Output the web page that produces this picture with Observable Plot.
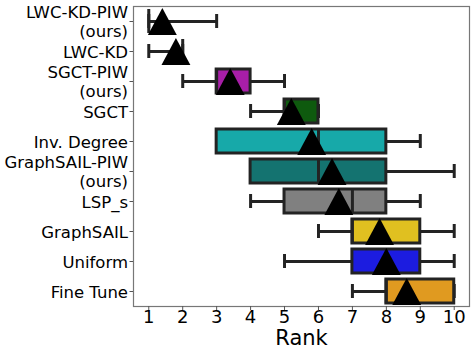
<!DOCTYPE html>
<html>
<head>
<meta charset="utf-8">
<script src="https://cdn.jsdelivr.net/npm/d3@7"></script>
<script src="https://cdn.jsdelivr.net/npm/@observablehq/plot@0.6"></script>
<style>
  html, body { margin: 0; padding: 0; background: #fff; }
  svg { display: block; }
</style>
</head>
<body>
<div id="chart"></div>
<script>
const categories = ["LWC-KD-PIW\n(ours)", "LWC-KD", "SGCT-PIW\n(ours)", "SGCT", "Inv. Degree",
  "GraphSAIL-PIW\n(ours)", "LSP_s", "GraphSAIL", "Uniform", "Fine Tune"];
const whiskerLow = [1, 1, 2, 4, 3, 4, 4, 6, 5, 7];
const q1 = [1, 2, 3, 5, 3, 4, 5, 7, 7, 8];
const median = [1, 2, 3, 5, 6, 6, 7, 7, 8, 8];
const q3 = [1, 2, 4, 6, 8, 8, 8, 9, 9, 10];
const whiskerHigh = [3, 2, 5, 6, 9, 10, 9, 10, 10, 10];
const mean = [1.4, 1.8, 3.4, 5.2, 5.8, 6.4, 6.6, 7.8, 8.0, 8.6];
const colors = ["#ffffff", "#ffffff", "#a81ea8", "#0e5a0e", "#17a9a9", "#147370", "#808080", "#e0c020", "#1c1ce0", "#e09a20"];
const xTicks = [1, 2, 3, 4, 5, 6, 7, 8, 9, 10];
const xLabel = "Rank";

const rows = categories.map((c, i) => ({
  cat: c, lo: whiskerLow[i], q1: q1[i], med: median[i], q3: q3[i], hi: whiskerHigh[i], mean: mean[i], color: colors[i]
}));

const edge = "#232323";
const tri = {
  draw(context, size) {
    const r = Math.sqrt(size / Math.PI);
    context.moveTo(0, -r);
    context.lineTo(r * 1.07, r);
    context.lineTo(-r * 1.07, r);
    context.closePath();
  }
};

const chart = Plot.plot({
  width: 475,
  height: 356,
  marginLeft: 133,
  marginRight: 6,
  marginTop: 6,
  marginBottom: 50,
  style: { fontFamily: "DejaVu Sans", background: "#fff", color: "#000" },
  x: { domain: [0.55, 10.45] },
  y: { domain: categories, padding: 0 },
  marks: [
    Plot.ruleY(rows, { y: "cat", x1: "lo", x2: "q1", stroke: edge, strokeWidth: 3 }),
    Plot.ruleY(rows, { y: "cat", x1: "q3", x2: "hi", stroke: edge, strokeWidth: 3 }),
    Plot.tickX(rows, { x: "lo", y: "cat", stroke: edge, strokeWidth: 3, insetTop: 8, insetBottom: 8 }),
    Plot.tickX(rows, { x: "hi", y: "cat", stroke: edge, strokeWidth: 3, insetTop: 8, insetBottom: 8 }),
    Plot.barX(rows, { x1: "q1", x2: "q3", y: "cat", fill: "color", stroke: edge, strokeWidth: 3, insetTop: 3, insetBottom: 3 }),
    Plot.tickX(rows, { x: "med", y: "cat", stroke: edge, strokeWidth: 3, insetTop: 3, insetBottom: 3 }),
    Plot.dot(rows, { x: "mean", y: "cat", symbol: tri, r: 13.5, fill: "#000", stroke: "none" }),
    Plot.frame({ stroke: "#777", strokeWidth: 1.2 }),
    Plot.axisY({ tickSize: 3.5, tickPadding: 2, fontSize: 16.5, lineHeight: 1.15, stroke: "#555", label: null, color: "#000" }),
    Plot.axisX({ ticks: xTicks, tickFormat: d => String(d), tickSize: 4, tickPadding: 0, fontSize: 18, stroke: "#555", label: null, color: "#000" }),
    Plot.text([xLabel], { frameAnchor: "bottom", dy: 38, fontSize: 21, fill: "#000" })
  ]
});
document.getElementById("chart").appendChild(chart);
</script>
</body>
</html>
